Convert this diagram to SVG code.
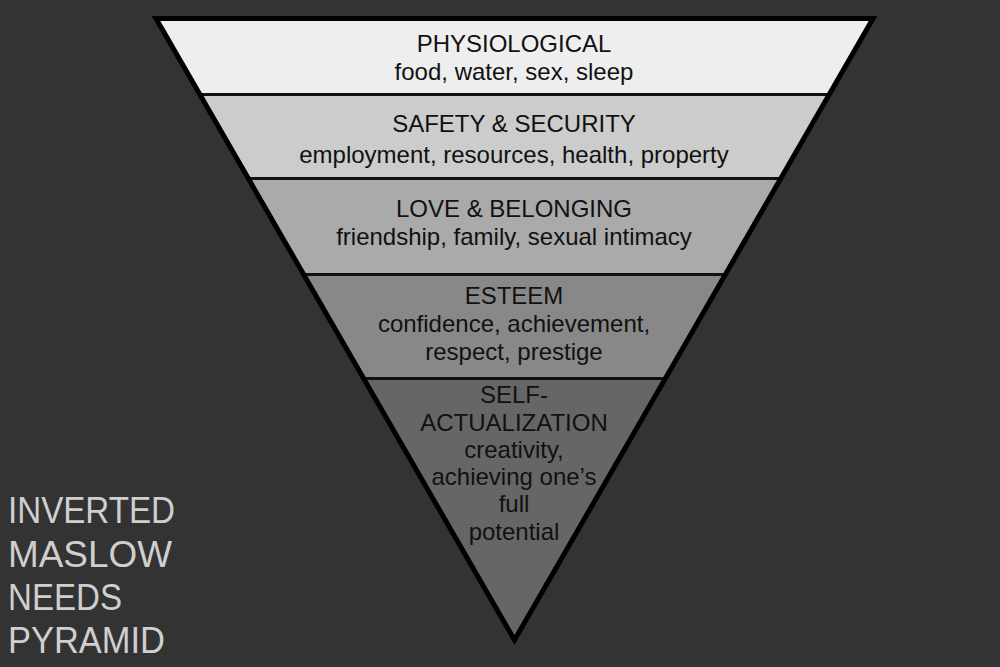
<svg xmlns="http://www.w3.org/2000/svg" width="1000" height="667" viewBox="0 0 1000 667">
<style>
.lbl{font-family:"Liberation Sans",Arial,sans-serif;font-size:24px;fill:#111;text-anchor:middle}
.ttl{font-family:"Liberation Sans",Arial,sans-serif;font-size:36px;fill:#cfcfcf}
.sep{stroke:#111;stroke-width:3;fill:none}
</style>
<rect x="0" y="0" width="1000" height="667" fill="#333333"/>
<g id="physiological">
<polygon points="156,18.5 873,18.5 829.2,94.5 199.8,94.5" fill="#eeeeee"/>
<text class="lbl" x="514" y="52">PHYSIOLOGICAL</text>
<text class="lbl" x="514" y="80">food, water, sex, sleep</text>
</g>
<g id="safety">
<polygon points="199.8,94.5 829.2,94.5 780.7,178.5 248.3,178.5" fill="#cccccc"/>
<text class="lbl" x="514" y="132">SAFETY &amp; SECURITY</text>
<text class="lbl" x="514" y="163">employment, resources, health, property</text>
</g>
<g id="love">
<polygon points="248.3,178.5 780.7,178.5 725.3,274.5 303.7,274.5" fill="#aaaaaa"/>
<text class="lbl" x="514" y="217">LOVE &amp; BELONGING</text>
<text class="lbl" x="514" y="245">friendship, family, sexual intimacy</text>
</g>
<g id="esteem">
<polygon points="303.7,274.5 725.3,274.5 665.4,378.5 363.6,378.5" fill="#888888"/>
<text class="lbl" x="514" y="304">ESTEEM</text>
<text class="lbl" x="514" y="332">confidence, achievement,</text>
<text class="lbl" x="514" y="360">respect, prestige</text>
</g>
<g id="separators">
<line class="sep" x1="199.8" y1="94.5" x2="829.2" y2="94.5"/>
<line class="sep" x1="248.3" y1="178.5" x2="780.7" y2="178.5"/>
<line class="sep" x1="303.7" y1="274.5" x2="725.3" y2="274.5"/>
<line class="sep" x1="363.6" y1="378.5" x2="665.4" y2="378.5"/>
</g>
<g id="self-actualization">
<polygon points="363.6,380 665.4,380 514.5,640" fill="#666666"/>
</g>
<polygon id="outline" points="156,18.5 873,18.5 514.5,640" fill="none" stroke="#000" stroke-width="5" stroke-linejoin="miter" stroke-miterlimit="10"/>
<g id="self-actualization-text">
<text class="lbl" x="514" y="403">SELF-</text>
<text class="lbl" x="514" y="431">ACTUALIZATION</text>
<text class="lbl" x="514" y="458">creativity,</text>
<text class="lbl" x="514" y="485">achieving one’s</text>
<text class="lbl" x="514" y="512">full</text>
<text class="lbl" x="514" y="540">potential</text>
</g>
<g id="title">
<text class="ttl" x="8" y="523" textLength="167" lengthAdjust="spacingAndGlyphs">INVERTED</text>
<text class="ttl" x="8" y="567" textLength="164" lengthAdjust="spacingAndGlyphs">MASLOW</text>
<text class="ttl" x="8" y="610" textLength="114" lengthAdjust="spacingAndGlyphs">NEEDS</text>
<text class="ttl" x="8" y="653" textLength="157" lengthAdjust="spacingAndGlyphs">PYRAMID</text>
</g>
</svg>
